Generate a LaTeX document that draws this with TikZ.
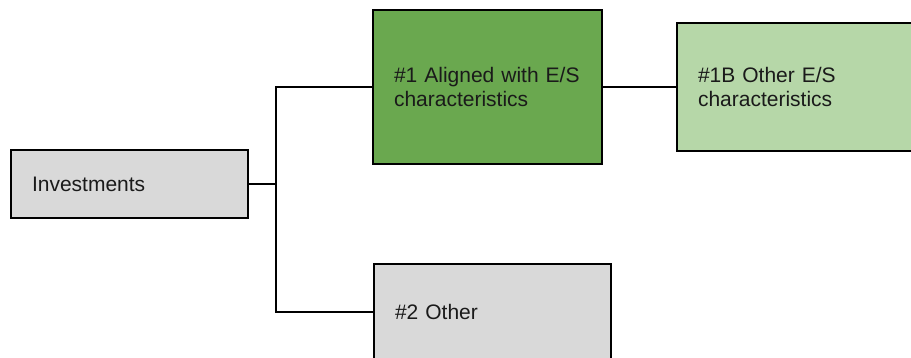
\documentclass[tikz,border=0pt]{standalone}
\usepackage{fontspec}
\setmainfont{Liberation Sans}
\definecolor{boxgrey}{HTML}{D9D9D9}
\definecolor{boxgreen}{HTML}{6AA84F}
\definecolor{boxlight}{HTML}{B6D7A8}
\definecolor{txt}{HTML}{1A1A1A}
\tikzset{
  box/.style={draw=black, line width=1.6pt, rectangle, inner xsep=21pt, inner ysep=0pt,
    align=left, text=txt, font=\fontsize{21}{23.5}\selectfont},
  conn/.style={draw=black, line width=1.6pt}
}
\begin{document}
\begin{tikzpicture}[x=1pt,y=-1pt]
\useasboundingbox (0,0) rectangle (911,358);
\node[box, fill=boxgrey, minimum width=237pt, minimum height=68pt, text width=195pt] (inv) at (129.5,184) {Investments};
\node[box, fill=boxgreen, minimum width=229pt, minimum height=154pt, text width=187pt] (a1) at (487.5,87) {\#1 Aligned with E/S\\characteristics};
\node[box, fill=boxlight, minimum width=237pt, minimum height=128pt, text width=195pt] (b1) at (795.5,87) {\#1B Other E/S\\characteristics};
\node[box, fill=boxgrey, minimum width=237pt, minimum height=96pt, text width=195pt] (o2) at (492.5,312) {\#2 Other};
\coordinate (j) at (276,184);
\draw[conn] (inv.east) -- (j);
\draw[conn] (a1.west) -| (j) |- (o2.west);
\draw[conn] (a1.east) -- (b1.west);
\end{tikzpicture}
\end{document}
